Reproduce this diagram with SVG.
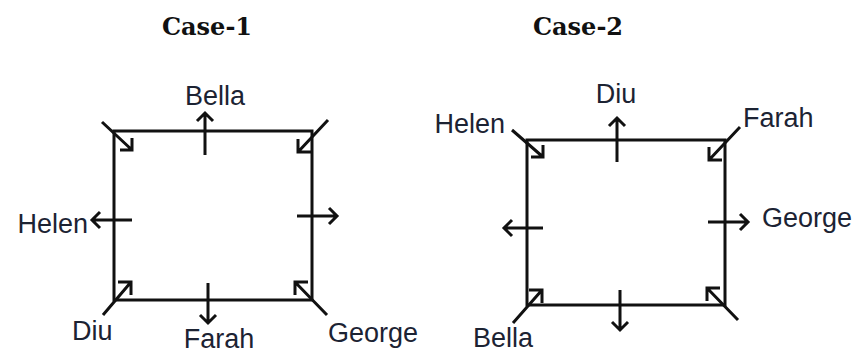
<svg xmlns="http://www.w3.org/2000/svg" width="854" height="354" viewBox="0 0 854 354">
<style>
.bg{fill:#fff}
.sq{fill:none;stroke:#111;stroke-width:3}
.ar{fill:none;stroke:#111;stroke-width:3;stroke-linecap:butt;stroke-linejoin:miter}
.lb{font-family:"Liberation Sans",Arial,sans-serif;font-size:27px;fill:#1c2333}
.tt{font-family:"DejaVu Serif","Liberation Serif",serif;font-weight:bold;font-size:24px;fill:#111;text-anchor:middle}
</style>
<rect class="bg" x="0" y="0" width="854" height="354"/>
<text class="tt" x="207" y="35">Case-1</text>
<text class="tt" x="578" y="35">Case-2</text>

<g id="case1-table"><rect class="sq" x="114" y="131" width="198" height="169"/></g>
<g id="case1-bella"><path class="ar" d="M205 155V113M197 121L205 113L213 121"/><text class="lb" x="215" y="105" text-anchor="middle">Bella</text></g>
<g id="case1-topleft"><path class="ar" d="M102 122L132 150M120 150H132V138"/></g>
<g id="case1-topright"><path class="ar" d="M328 120L298 152M298 139V152H311"/></g>
<g id="case1-helen"><path class="ar" d="M132 220H92M100 212L92 220L100 228"/><text class="lb" x="88" y="233" text-anchor="end">Helen</text></g>
<g id="case1-right"><path class="ar" d="M297 216H337M329 208L337 216L329 224"/></g>
<g id="case1-diu"><path class="ar" d="M103 315L131 282M118 282H131V295"/><text class="lb" x="72" y="340">Diu</text></g>
<g id="case1-farah"><path class="ar" d="M208 283V323M200 315L208 323L216 315"/><text class="lb" x="219" y="348" text-anchor="middle">Farah</text></g>
<g id="case1-george"><path class="ar" d="M327 315L295 282M308 282H295V295"/><text class="lb" x="328" y="342">George</text></g>

<g id="case2-table"><rect class="sq" x="527" y="140" width="198" height="165"/></g>
<g id="case2-helen"><path class="ar" d="M512 130L543 157M531 157H543V145"/><text class="lb" x="505" y="133" text-anchor="end">Helen</text></g>
<g id="case2-diu"><path class="ar" d="M617 162V118M609 126L617 118L625 126"/><text class="lb" x="616" y="103" text-anchor="middle">Diu</text></g>
<g id="case2-farah"><path class="ar" d="M740 127L709 160M709 147V160H722"/><text class="lb" x="743" y="127">Farah</text></g>
<g id="case2-george"><path class="ar" d="M708 222H748M740 214L748 222L740 230"/><text class="lb" x="762" y="227">George</text></g>
<g id="case2-left"><path class="ar" d="M543 228H504M512 220L504 228L512 236"/></g>
<g id="case2-bella"><path class="ar" d="M513 323L542 290M529 290H542V303"/><text class="lb" x="473" y="347">Bella</text></g>
<g id="case2-bottom"><path class="ar" d="M620 290V330M612 322L620 330L628 322"/></g>
<g id="case2-bottomright"><path class="ar" d="M738 320L707 288M720 288H707V301"/></g>
</svg>
